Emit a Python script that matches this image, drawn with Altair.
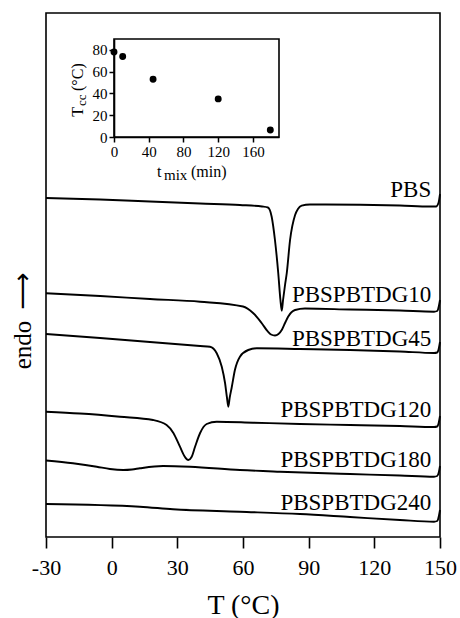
import altair as alt
import pandas as pd

FONT = "Liberation Serif"

# ---- main DSC curves (T in °C, heat flow in arbitrary units, endo up) ----
PBS_T = [-30, -5.3, 17.5, 40.4, 58.6, 68.7, 71.4, 73.1, 74.6, 76.1, 77.1, 77.7, 78.3, 79.2, 80.0,
         81.5, 83.8, 85.1, 86.8, 90.6, 113.5, 131.7, 145.4, 148.2, 149.3, 150]
PBS_Y = [33.9, 33.75, 33.55, 33.35, 33.2, 33.05, 32.95, 32.03, 29.7, 26.4, 23.7, 22.63, 23.7, 25.2, 26.4,
         29.7, 32.2, 32.8, 33.13, 33.25, 33.22, 33.15, 33.05, 33.05, 33.4, 34.3]

G10_T = [-30, -5.3, 17.5, 40.4, 60.0, 64.6, 68.5, 71.4, 72.8, 74.6, 76.2, 77.7, 79.2, 80.6, 83.8,
         88.3, 108.9, 131.7, 147.3, 148.7, 149.5, 150]
G10_Y = [24.37, 24.1, 23.8, 23.53, 23.05, 22.4, 21.4, 20.53, 20.25, 20.15, 20.3, 20.7, 21.4, 22.03, 22.7,
         22.85, 22.75, 22.65, 22.53, 22.6, 23.1, 23.7]

G45_T = [-30, -5.3, 17.5, 40.4, 44.9, 48.0, 50.3, 51.8, 52.7, 53.3, 53.9, 54.8, 56.3, 58.6, 62.4,
         66.3, 86.0, 108.9, 131.7, 147.3, 148.7, 149.5, 150]
G45_Y = [20.3, 19.9, 19.5, 19.1, 19.03, 18.37, 17.03, 15.4, 13.9, 13.03, 13.9, 14.9, 16.7, 18.03, 18.7,
         18.87, 18.8, 18.7, 18.55, 18.4, 18.45, 18.9, 19.5]

G120_T = [-30, -14.5, 3.8, 18.9, 25.1, 28.2, 31.2, 33.5, 35.0, 36.5, 38.1, 40.4, 43.4, 48.0, 64.6,
          86.0, 108.9, 131.7, 147.3, 148.7, 149.5, 150]
G120_Y = [12.53, 12.35, 12.03, 11.7, 11.2, 10.4, 9.03, 8.0, 7.7, 8.0, 9.03, 10.4, 11.3, 11.53, 11.43,
          11.3, 11.2, 11.1, 11.0, 11.05, 11.5, 12.1]

G180_T = [-30, -17.7, -6.8, -0.8, 5.3, 9.3, 12.9, 23.5, 35.8, 58.6, 76.9, 108.9, 131.7, 147.3,
          148.7, 149.5, 150]
G180_Y = [7.65, 7.37, 7.03, 6.8, 6.7, 6.75, 6.87, 7.1, 7.03, 6.7, 6.53, 6.3, 6.15, 6.03, 6.1, 6.5, 7.1]

G240_T = [-30, 12.9, 28.0, 58.6, 86.0, 108.9, 131.7, 147.3, 148.7, 149.5, 150]
G240_Y = [3.3, 3.03, 2.77, 2.53, 2.3, 2.0, 1.7, 1.53, 1.6, 2.1, 2.7]

CURVE_NAMES = ["PBS", "PBSPBTDG10", "PBSPBTDG45", "PBSPBTDG120", "PBSPBTDG180", "PBSPBTDG240"]
CURVE_T = [PBS_T, G10_T, G45_T, G120_T, G180_T, G240_T]
CURVE_Y = [PBS_Y, G10_Y, G45_Y, G120_Y, G180_Y, G240_Y]

LABEL_T = [146, 146, 146, 146, 146, 146]
LABEL_Y = [34.03, 23.53, 19.15, 12.03, 7.03, 2.7]

X_TICKS = [-30, 0, 30, 60, 90, 120, 150]

# ---- inset: crystallization temperature vs mixing time ----
T_MIX = [0, 10, 45, 120, 180]
T_CC = [78, 74, 53, 35, 6.5]
INSET_X_TICKS = [0, 40, 80, 120, 160]
INSET_Y_TICKS = [0, 20, 40, 60, 80]

rows = []
for name, ts, ys in zip(CURVE_NAMES, CURVE_T, CURVE_Y):
    for i, (t, y) in enumerate(zip(ts, ys)):
        rows.append({"curve": name, "i": i, "T": t, "hf": y})
curves_df = pd.DataFrame(rows)
labels_df = pd.DataFrame({"name": CURVE_NAMES, "T": LABEL_T, "hf": LABEL_Y})
inset_df = pd.DataFrame({"t_mix": T_MIX, "Tcc": T_CC})
frame_df = pd.DataFrame({"t_mix": [0], "t_mix2": [190], "Tcc": [0], "Tcc2": [90]})

x_main = alt.Scale(domain=[-30, 150], nice=False, zero=False)
y_main = alt.Scale(domain=[0, 52.4], nice=False, zero=False)

x_axis = alt.Axis(values=X_TICKS, title="T (°C)", orient="bottom", domain=False, grid=False,
                  ticks=True, tickSize=11, tickWidth=1.6, tickColor="black",
                  labelFont=FONT, labelFontSize=22, labelColor="black", labelPadding=9,
                  labelFlush=False, labelOverlap=False, labelExpr="'' + datum.value",
                  titleFont=FONT, titleFontSize=28, titleFontWeight="normal", titleColor="black",
                  titlePadding=13)

lines = alt.Chart(curves_df).mark_line(color="black", strokeWidth=1.9, interpolate="monotone").encode(
    x=alt.X("T:Q", scale=x_main, axis=x_axis),
    y=alt.Y("hf:Q", scale=y_main, axis=None),
    detail="curve:N",
    order="i:Q",
)

labels = alt.Chart(labels_df).mark_text(align="right", baseline="alphabetic", font=FONT,
                                        fontSize=23, color="black").encode(
    x=alt.X("T:Q", scale=x_main, axis=x_axis),
    y=alt.Y("hf:Q", scale=y_main, axis=None),
    text="name:N",
)

main = alt.layer(lines, labels)

ins_x = alt.Scale(domain=[0, 190], range=[68, 233], nice=False, zero=False)
ins_y = alt.Scale(domain=[0, 90], range=[124, 26], nice=False, zero=False)

ix_axis = alt.Axis(orient="bottom", offset=-400, values=INSET_X_TICKS, title=None, grid=False,
                   domain=True, domainColor="black", domainWidth=1.6,
                   tickSize=5, tickWidth=1.5, tickColor="black",
                   labelFont=FONT, labelFontSize=15, labelColor="black", labelPadding=2,
                   labelFlush=False)
iy_axis = alt.Axis(orient="left", offset=-68, values=INSET_Y_TICKS, title=None, grid=False,
                   domain=True, domainColor="black", domainWidth=1.6,
                   tickSize=5, tickWidth=1.5, tickColor="black",
                   labelFont=FONT, labelFontSize=15, labelColor="black", labelPadding=2,
                   labelFlush=False)

frame = alt.Chart(frame_df).mark_rect(fillOpacity=0, stroke="black", strokeWidth=1.6).encode(
    x=alt.X("t_mix:Q", scale=ins_x, axis=ix_axis),
    x2="t_mix2:Q",
    y=alt.Y("Tcc:Q", scale=ins_y, axis=iy_axis),
    y2="Tcc2:Q",
)
points = alt.Chart(inset_df).mark_circle(color="black", size=48, opacity=1).encode(
    x=alt.X("t_mix:Q", scale=ins_x, axis=ix_axis),
    y=alt.Y("Tcc:Q", scale=ins_y, axis=iy_axis),
)
inset = alt.layer(frame, points)

# ---- titles with subscripts (text marks) ----
one = pd.DataFrame({"k": [0]})

def txt(s, x, y, size, angle=0, align="left", baseline="alphabetic", font=FONT):
    kw = dict(text=s, font=font, fontSize=size, color="black", align=align, baseline=baseline)
    if angle:
        kw["angle"] = angle
    return alt.Chart(one).mark_text(**kw).encode(x=alt.value(x), y=alt.value(y))

titles = alt.layer(
    txt("t", 111, 163.7, 16),
    txt("mix", 118, 167, 15),
    txt("(min)", 145, 163.7, 16),
    txt("T", 36.7, 103.7, 16, angle=270),
    txt("cc", 40, 93, 13, angle=270),
    txt("(°C)", 36.7, 78, 16, angle=270),
    txt("endo", -15, 332, 25, angle=270, align="center"),
    txt("⟶", -23.5, 278, 26, angle=270, align="center", baseline="middle", font="DejaVu Sans"),
)

chart = alt.layer(main, inset, titles).resolve_scale(x="independent", y="independent").properties(
    width=394, height=524,
    autosize=alt.AutoSizeParams(type="none"),
    padding={"left": 46, "top": 13, "right": 20, "bottom": 81},
    background="white",
).configure_view(stroke="black", strokeWidth=1.6)

chart.save("out.html", embed_options={"renderer": "svg", "actions": False})
